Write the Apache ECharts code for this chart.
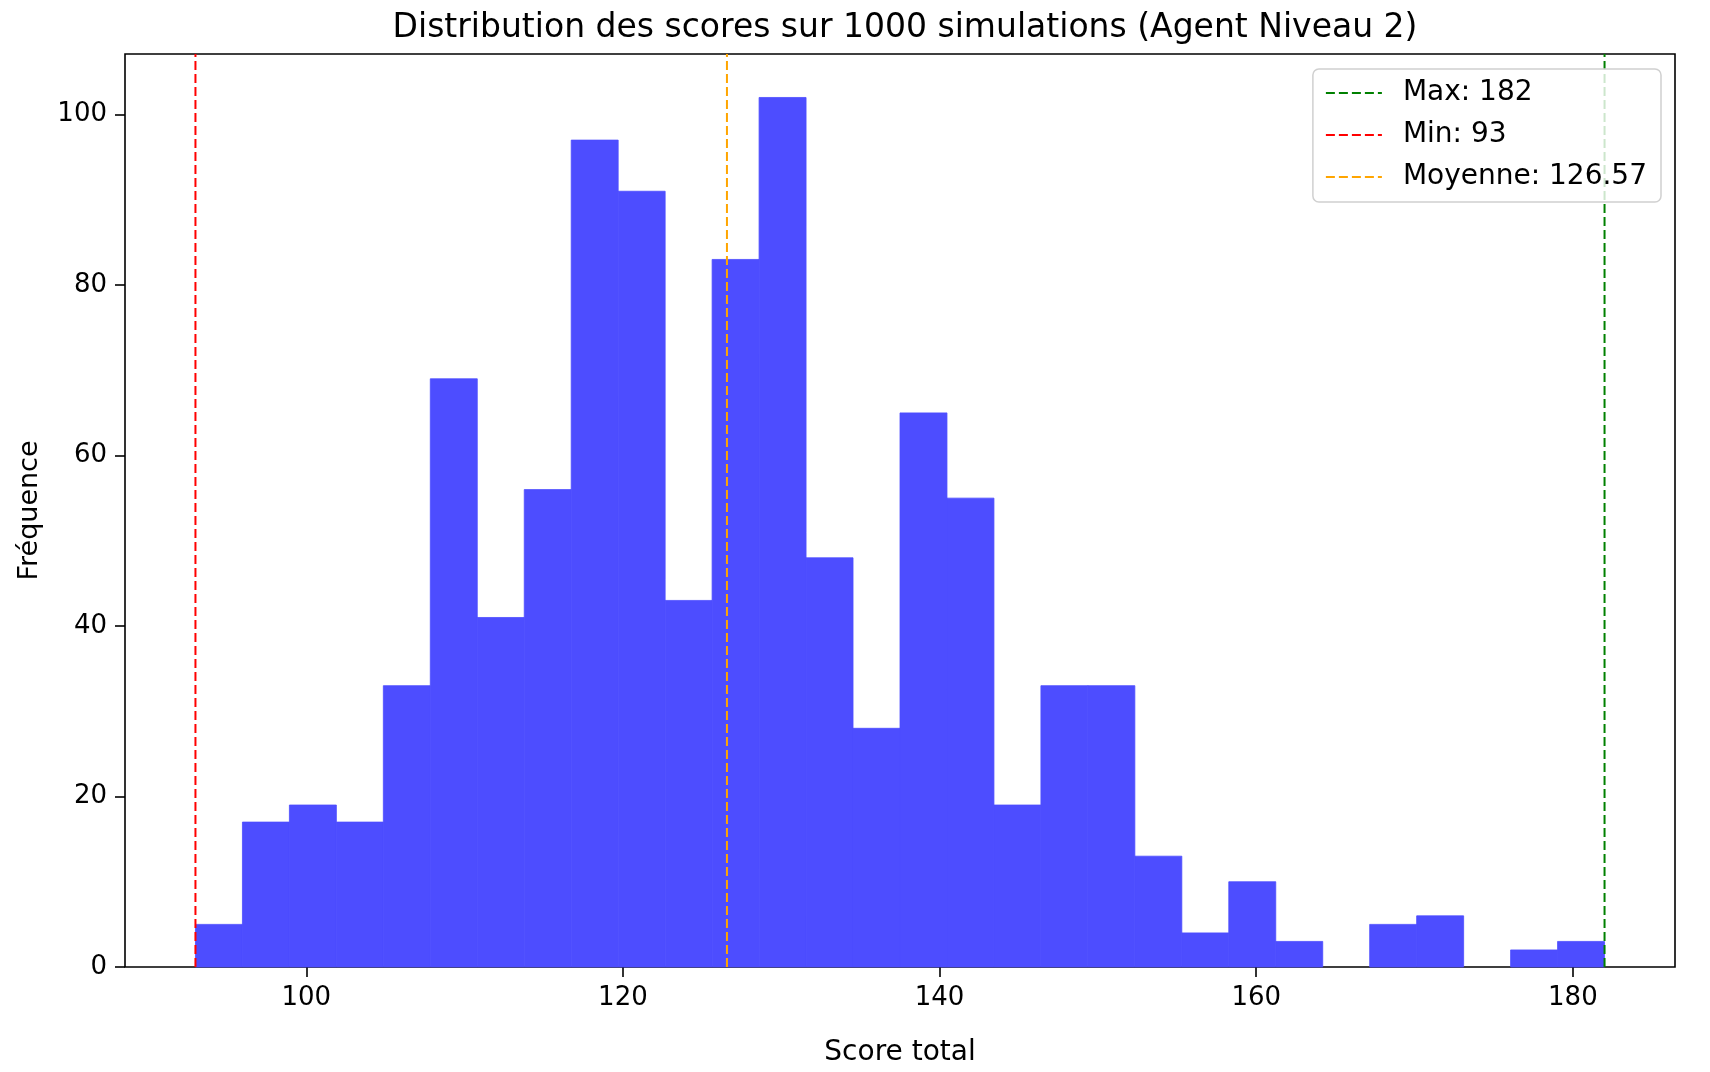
<!DOCTYPE html>
<html>
<head>
<meta charset="utf-8">
<title>Distribution des scores</title>
<script src="https://cdn.jsdelivr.net/npm/echarts@6/dist/echarts.min.js"></script>
<style>
html, body { margin: 0; padding: 0; background: #fff; }
#chart { width: 1710px; height: 1072px; }
</style>
</head>
<body>
<div id="chart"></div>
<script>
// histogramme : 30 classes entre le min et le max
var scoreMin = 93;
var scoreMax = 182;
var scoreMean = 126.57;
var binCount = 30;
var counts = [5, 17, 19, 17, 33, 69, 41, 56, 97, 91,
              43, 83, 102, 48, 28, 65, 55, 19, 33, 33,
              13, 4, 10, 3, 0, 5, 6, 0, 2, 3];

var xTicks = [100, 120, 140, 160, 180];
var yTicks = [0, 20, 40, 60, 80, 100];
var xRange = [88.55, 186.45];
var yRange = [0, 107.1];

var refLines = [
    { name: 'Max: 182', value: scoreMax, color: '#008000' },
    { name: 'Min: 93', value: scoreMin, color: '#ff0000' },
    { name: 'Moyenne: 126.57', value: scoreMean, color: '#ffa500' }
];

var font = 'DejaVu Sans';
var barColor = '#4d4dff';
var binWidth = (scoreMax - scoreMin) / binCount;
var bins = counts.map(function (c, i) {
    return [scoreMin + i * binWidth, scoreMin + (i + 1) * binWidth, c];
});

var series = [{
    type: 'custom',
    data: bins,
    encode: { x: [0, 1], y: 2 },
    z: 2,
    renderItem: function (params, api) {
        var p0 = api.coord([api.value(0), 0]);
        var p1 = api.coord([api.value(1), api.value(2)]);
        if (api.value(2) === 0) return null;
        return {
            type: 'rect',
            shape: { x: p0[0], y: p1[1], width: p1[0] - p0[0], height: p0[1] - p1[1] },
            style: { fill: barColor, stroke: barColor, lineWidth: 0.8 }
        };
    }
}];

refLines.forEach(function (r) {
    series.push({
        name: r.name,
        type: 'line',
        data: [[r.value, yRange[0]], [r.value, yRange[1]]],
        symbol: 'none',
        z: 5,
        color: r.color,
        lineStyle: { color: r.color, width: 2, type: [9, 4] },
        emphasis: { disabled: true }
    });
});

var myChart = echarts.init(document.getElementById('chart'));
var option = {
    animation: false,
    backgroundColor: '#fff',
    title: {
        text: 'Distribution des scores sur 1000 simulations (Agent Niveau 2)',
        left: 900,
        top: 7,
        textAlign: 'center',
        textStyle: { fontFamily: font, fontSize: 33, fontWeight: 'normal', color: '#000' }
    },
    legend: {
        orient: 'vertical',
        right: 49,
        top: 69,
        data: refLines.map(function (r) { return r.name; }),
        itemWidth: 56,
        itemHeight: 28,
        itemGap: 14,
        padding: [10, 14, 11, 12],
        backgroundColor: 'rgba(255,255,255,0.8)',
        borderColor: '#d0d0d0',
        borderWidth: 1.5,
        borderRadius: 6,
        itemStyle: { opacity: 0 },
        textStyle: { fontFamily: font, fontSize: 28, color: '#000', padding: [0, 0, 0, 16] },
        selectedMode: false,
        z: 10
    },
    grid: {
        left: 125, right: 35, top: 54, bottom: 93,
        show: true,
        borderColor: '#000',
        borderWidth: 1.6,
        backgroundColor: 'transparent'
    },
    xAxis: {
        type: 'value',
        min: xRange[0],
        max: xRange[1],
        name: 'Score total',
        nameLocation: 'middle',
        nameGap: 72,
        nameTextStyle: { fontFamily: font, fontSize: 28, color: '#000' },
        axisLine: { show: false },
        axisTick: { show: true, length: 10, customValues: xTicks, lineStyle: { color: '#000', width: 1.6 } },
        axisLabel: { customValues: xTicks, margin: 18, fontFamily: font, fontSize: 26, color: '#000' },
        splitLine: { show: false }
    },
    yAxis: {
        type: 'value',
        min: yRange[0],
        max: yRange[1],
        name: 'Fréquence',
        nameLocation: 'middle',
        nameGap: 82,
        nameTextStyle: { fontFamily: font, fontSize: 27, color: '#000' },
        axisLine: { show: false },
        axisTick: { show: true, length: 10, customValues: yTicks, lineStyle: { color: '#000', width: 1.6 } },
        axisLabel: { customValues: yTicks, margin: 18, fontFamily: font, fontSize: 26, color: '#000' },
        splitLine: { show: false }
    },
    series: series
};
myChart.setOption(option);
</script>
</body>
</html>
